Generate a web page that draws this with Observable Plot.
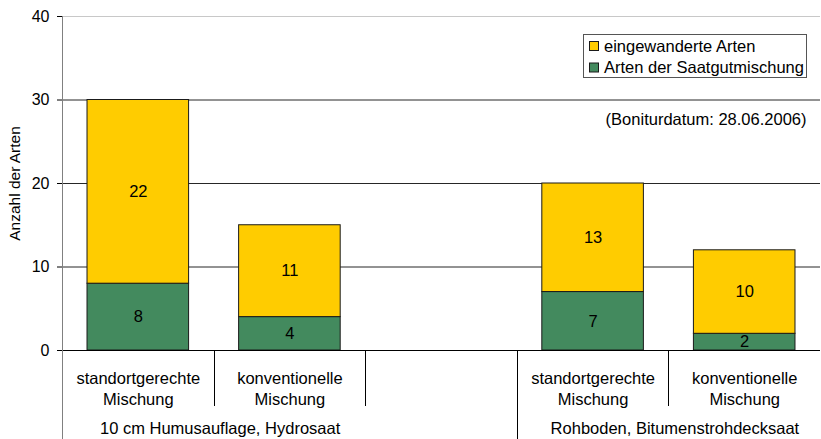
<!DOCTYPE html>
<html>
<head>
<meta charset="utf-8">
<script src="https://cdn.jsdelivr.net/npm/d3@7"></script>
<script src="https://cdn.jsdelivr.net/npm/@observablehq/plot@0.6"></script>
<style>
  html, body { margin: 0; padding: 0; background: #fff; }
  #chart { position: relative; width: 821px; height: 439px; }
</style>
</head>
<body>
<div id="chart"></div>
<script>
// ---- data ----
const groups = ["10 cm Humusauflage, Hydrosaat", "Rohboden, Bitumenstrohdecksaat"];
const mixtures = ["standortgerechte\nMischung", "konventionelle\nMischung"];
const seriesNames = ["Arten der Saatgutmischung", "eingewanderte Arten"];
const saatgut = [8, 4, 7, 2];          // green, bottom
const eingewandert = [22, 11, 13, 10]; // yellow, top
const yTickValues = [0, 10, 20, 30, 40];
const annotation = "(Boniturdatum: 28.06.2006)";
const yTitle = "Anzahl der Arten";

const colors = {"Arten der Saatgutmischung": "#438A5E", "eingewanderte Arten": "#FFCC00"};
const nSlots = groups.length * (mixtures.length + 1) - 1; // one empty slot between groups

// build rows
const rows = [];
const labels = [];
saatgut.forEach((v, i) => {
  const g = Math.floor(i / mixtures.length), m = i % mixtures.length;
  const slot = g * (mixtures.length + 1) + m;
  const top = v + eingewandert[i];
  rows.push({slot, series: seriesNames[0], y1: 0, y2: v, value: v});
  rows.push({slot, series: seriesNames[1], y1: v, y2: top, value: eingewandert[i]});
  labels.push({slot, text: mixtures[m]});
});
const groupRows = groups.map((name, g) => ({
  name,
  start: g * (mixtures.length + 1),
  end: g * (mixtures.length + 1) + mixtures.length
}));
const barHalf = 0.335;

const font = "'Liberation Sans', Arial, sans-serif";

const chart = Plot.plot({
  width: 821,
  height: 439,
  marginLeft: 62,
  marginRight: 1,
  marginTop: 16,
  marginBottom: 89,
  style: {fontFamily: font, fontSize: "16px", color: "#000", background: "#fff"},
  x: {domain: [0, nSlots], axis: null},
  y: {domain: [0, 40], ticks: 4, tickSize: 5, tickPadding: 8, label: null, nice: false},
  marks: [
    Plot.ruleY([40], {stroke: "#c8c8c8", strokeWidth: 1}),
    Plot.ruleY(yTickValues.filter(d => d > 0 && d < 40), {stroke: "#262626", strokeWidth: 1}),
    Plot.rect(rows, {
      x1: d => d.slot + 0.5 - barHalf,
      x2: d => d.slot + 0.5 + barHalf,
      y1: "y1", y2: "y2",
      fill: d => colors[d.series],
      stroke: "#1a1a1a",
      strokeWidth: 1
    }),
    Plot.text(rows, {
      x: d => d.slot + 0.5,
      y: d => (d.y1 + d.y2) / 2,
      text: d => String(d.value),
      fontSize: 16.5,
      fill: "#000"
    }),
    Plot.ruleY([0], {stroke: "#000", strokeWidth: 1}),
    Plot.text(labels, {
      x: d => d.slot + 0.5,
      frameAnchor: "bottom",
      text: "text",
      lineAnchor: "middle",
      lineHeight: 1.27,
      dy: 37,
      fontSize: 16.5,
      fill: "#000"
    }),
    Plot.text(groupRows, {
      x: d => (d.start + d.end) / 2,
      frameAnchor: "bottom",
      text: "name",
      lineAnchor: "middle",
      dx: 6,
      dy: 78,
      fontSize: 16.5,
      fill: "#000"
    }),
    Plot.text([yTitle], {
      frameAnchor: "left",
      text: d => d,
      textAnchor: "middle",
      rotate: -90,
      dx: -47,
      fontSize: 15.5,
      fill: "#000"
    }),
    Plot.text([annotation], {
      frameAnchor: "top-right",
      text: d => d,
      textAnchor: "end",
      dx: -14,
      dy: 97,
      fontSize: 16.5,
      fill: "#000"
    })
  ]
});

document.getElementById("chart").appendChild(chart);

// ---- decorations using the plot's scales ----
const svg = d3.select(chart);
const xs = chart.scale("x"), ys = chart.scale("y");
const y0 = ys.apply(0);
const deco = svg.append("g").attr("shape-rendering", "crispEdges");

// category separators (right edge falls outside the picture)
const boundaries = d3.range(0, nSlots);
deco.selectAll("line.cat").data(boundaries).join("line")
  .attr("x1", d => Math.round(xs.apply(d)) + 0.5)
  .attr("x2", d => Math.round(xs.apply(d)) + 0.5)
  .attr("y1", y0).attr("y2", y0 + 56)
  .attr("stroke", "#000");
// group separators
const gb = [0, ...groupRows.slice(1).map(g => g.start)];
deco.selectAll("line.grp").data(gb).join("line")
  .attr("x1", d => Math.round(xs.apply(d)) + 0.5)
  .attr("x2", d => Math.round(xs.apply(d)) + 0.5)
  .attr("y1", y0).attr("y2", 439)
  .attr("stroke", d => d === 0 ? "#808080" : "#000");
// y axis line
deco.append("line")
  .attr("x1", Math.round(xs.apply(0)) + 0.5).attr("x2", Math.round(xs.apply(0)) + 0.5)
  .attr("y1", ys.apply(40)).attr("y2", 439)
  .attr("stroke", "#808080");

// legend
const lg = svg.append("g").attr("font-family", font).attr("font-size", 16.5).attr("text-anchor", "start");
lg.append("rect").attr("x", 583.5).attr("y", 34.5).attr("width", 223).attr("height", 43)
  .attr("fill", "#fff").attr("stroke", "#555");
const legendOrder = [seriesNames[1], seriesNames[0]];
legendOrder.forEach((name, i) => {
  const cy = 46 + i * 21.5;
  lg.append("rect").attr("x", 589.5).attr("y", cy - 4.5).attr("width", 9).attr("height", 9)
    .attr("fill", colors[name]).attr("stroke", "#1a1a1a");
  lg.append("text").attr("x", 604).attr("y", cy).attr("dy", "0.35em").attr("fill", "#000").text(name);
});
</script>
</body>
</html>
